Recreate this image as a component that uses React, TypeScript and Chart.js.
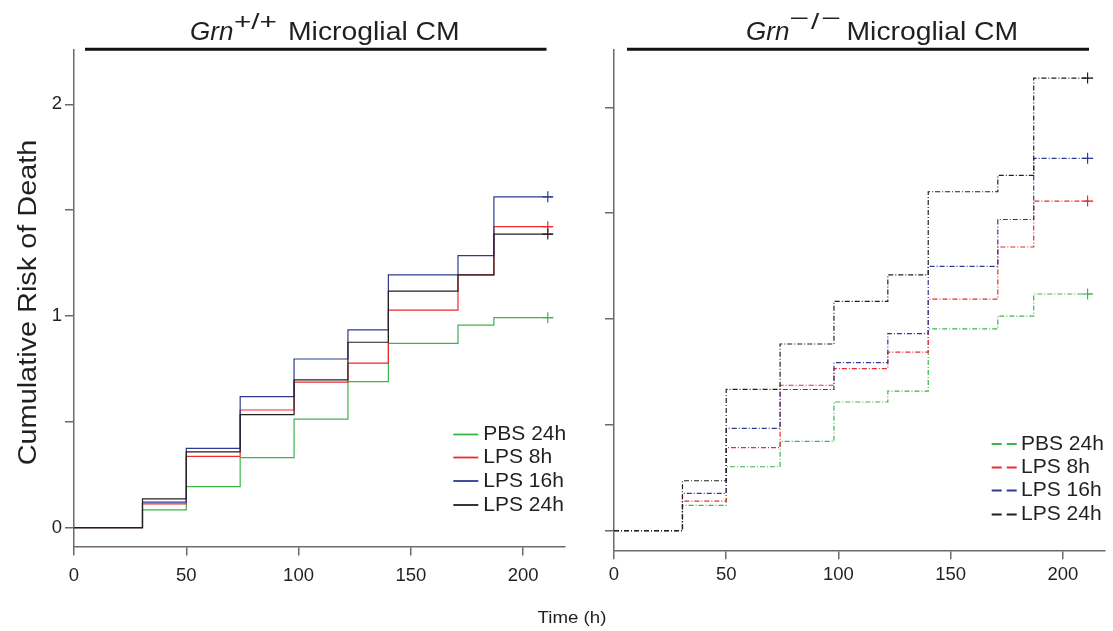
import React, { useEffect, useRef } from 'react';
import { Chart, registerables } from 'chart.js';

Chart.register(...registerables);

// ---------- data ----------
const seriesNames = ['PBS 24h', 'LPS 8h', 'LPS 16h', 'LPS 24h'];
const seriesColors = ['#3cb54a', '#ec2a30', '#2e3a92', '#231f20'];
const stepTimes = [0, 30.5, 50, 74, 98, 122, 140, 171, 187];
const censorTime = 211;
const endTime = 213.2;

const wtPBS24 = [0, 0.084, 0.194, 0.331, 0.513, 0.69, 0.871, 0.957, 0.992];
const wtLPS8 = [0, 0.113, 0.337, 0.556, 0.688, 0.777, 1.028, 1.194, 1.422];
const wtLPS16 = [0, 0.121, 0.375, 0.619, 0.797, 0.935, 1.194, 1.285, 1.563];
const wtLPS24 = [0, 0.136, 0.358, 0.534, 0.698, 0.876, 1.118, 1.194, 1.387];

const koPBS24 = [0, 0.12, 0.302, 0.422, 0.608, 0.659, 0.953, 1.014, 1.118];
const koLPS8 = [0, 0.14, 0.392, 0.687, 0.766, 0.844, 1.094, 1.34, 1.557];
const koLPS16 = [0, 0.176, 0.483, 0.667, 0.794, 0.931, 1.249, 1.47, 1.759];
const koLPS24 = [0, 0.236, 0.668, 0.882, 1.083, 1.208, 1.601, 1.678, 2.138];

const xTicks = [0, 50, 100, 150, 200];
const yTicks = [0, 0.5, 1, 1.5, 2];
const yLabelled = [0, 1, 2];

const yAxisTitle = 'Cumulative Risk of Death';
const xAxisTitle = 'Time (h)';
const titleGene = 'Grn';
const titleRest = 'Microglial CM';

// ---------- style ----------
const W = 1113;
const H = 631;
const FONT = '"Liberation Sans", Arial, Helvetica, sans-serif';
const TEXT = '#231f20';
const AXIS = '#6a6a6a';

type Panel = {
  values: number[][];
  dash: number[];
  area: { left: number; right: number; top: number; bottom: number };
  yMin: number;
  yMax: number;
  xMax: number;
  yAxisWidth: number;
  yLabels: boolean;
  xLabelPad: number;
  title: { x: number; supX: number; mainX: number; sup: string[]; supGap: number; supDy: number; lineFrom: number; lineTo: number };
  legend: { x0: number; x1: number; textX: number; rows: number[]; dash: number[] };
  extras: boolean;
};

const panels: Panel[] = [
  {
    values: [wtPBS24, wtLPS8, wtLPS16, wtLPS24],
    dash: [],
    area: { left: 74, right: 565, top: 49.3, bottom: 546.6 },
    yMin: -0.0893,
    yMax: 2.26,
    xMax: 218.66,
    yAxisWidth: 74,
    yLabels: true,
    xLabelPad: 9,
    title: { x: 190, supX: 234, mainX: 288, sup: ['+', '/', '+'], supGap: 0, supDy: 0, lineFrom: 85, lineTo: 546.5 },
    legend: { x0: 453.3, x1: 478.3, textX: 483.3, rows: [434.5, 457.5, 481, 505], dash: [] },
    extras: true,
  },
  {
    values: [koPBS24, koLPS8, koLPS16, koLPS24],
    dash: [5, 2, 1, 2],
    area: { left: 614, right: 1105, top: 49.3, bottom: 550.3 },
    yMin: -0.0926,
    yMax: 2.274,
    xMax: 218.76,
    yAxisWidth: 20,
    yLabels: false,
    xLabelPad: 5,
    title: { x: 746, supX: 791, mainX: 846.5, sup: ['\u2013', '/', '\u2013'], supGap: 3.5, supDy: -5, lineFrom: 627, lineTo: 1089 },
    legend: { x0: 991.7, x1: 1017, textX: 1021, rows: [444, 467.5, 490.5, 514.5], dash: [10, 5] },
    extras: false,
  },
];

function stepData(vals: number[]) {
  const last = vals[vals.length - 1];
  return [
    ...stepTimes.map((t, i) => ({ x: t, y: vals[i] })),
    { x: censorTime, y: last },
    { x: endTime, y: last },
  ];
}

function censorRadii() {
  return [...stepTimes.map(() => 0), 5.5, 0];
}

function drawStretched(ctx: CanvasRenderingContext2D, text: string, x: number, y: number, font: string, sx: number, align: string) {
  ctx.save();
  ctx.font = font;
  const w = ctx.measureText(text).width * sx;
  const x0 = align === 'center' ? x - w / 2 : align === 'right' ? x - w : x;
  ctx.translate(x0, y);
  ctx.scale(sx, 1);
  ctx.textAlign = 'left';
  ctx.textBaseline = 'alphabetic';
  ctx.fillText(text, 0, 0);
  ctx.restore();
  return w;
}

function makeOverlay(p: Panel) {
  return {
    id: 'overlay',
    afterDraw(chart: any) {
      const ctx: CanvasRenderingContext2D = chart.ctx;
      ctx.save();
      ctx.fillStyle = TEXT;
      // title
      drawStretched(ctx, titleGene, p.title.x, 40, `italic 26px ${FONT}`, 1.0, 'left');
      let sx = p.title.supX;
      for (const ch of p.title.sup) {
        const dy = ch === '/' ? 0 : p.title.supDy;
        const w = drawStretched(ctx, ch, sx, 29 + dy, `22px ${FONT}`, 1.35, 'left');
        sx += w + p.title.supGap;
      }
      drawStretched(ctx, titleRest, p.title.mainX, 40, `26px ${FONT}`, 1.09, 'left');
      ctx.strokeStyle = '#111';
      ctx.lineWidth = 3;
      ctx.beginPath();
      ctx.moveTo(p.title.lineFrom, 49.2);
      ctx.lineTo(p.title.lineTo, 49.2);
      ctx.stroke();

      // legend
      seriesNames.forEach((name, i) => {
        const y = p.legend.rows[i];
        ctx.save();
        ctx.strokeStyle = seriesColors[i];
        ctx.lineWidth = 1.8;
        ctx.setLineDash(p.legend.dash);
        ctx.beginPath();
        ctx.moveTo(p.legend.x0, y);
        ctx.lineTo(p.legend.x1, y);
        ctx.stroke();
        ctx.restore();
        ctx.font = `21px ${FONT}`;
        ctx.textAlign = 'left';
        ctx.textBaseline = 'middle';
        ctx.fillStyle = TEXT;
        ctx.fillText(name, p.legend.textX, y);
      });

      if (p.extras) {
        ctx.save();
        ctx.translate(36, 302.5);
        ctx.rotate(-Math.PI / 2);
        drawStretched(ctx, yAxisTitle, 0, 0, `26px ${FONT}`, 1.11, 'center');
        ctx.restore();
        drawStretched(ctx, xAxisTitle, 572, 623, `17px ${FONT}`, 1.1, 'center');
      }
      ctx.restore();
    },
  };
}

function makeConfig(p: Panel): any {
  const datasets = p.values.map((vals, i) => ({
    label: seriesNames[i],
    data: stepData(vals),
    borderColor: seriesColors[i],
    backgroundColor: seriesColors[i],
    borderWidth: 1.2,
    borderDash: p.dash,
    stepped: true,
    fill: false,
    pointStyle: 'cross',
    pointRadius: censorRadii(),
    pointHoverRadius: 0,
    pointBorderColor: seriesColors[i],
    pointBorderWidth: 1.2,
    order: 4 - i,
  }));
  const gridCfg = { display: true, drawOnChartArea: false, drawTicks: true, tickLength: 9, color: AXIS, lineWidth: 1.5 };
  const borderCfg = { display: true, color: AXIS, width: 1.5 };
  return {
    type: 'line',
    data: { datasets },
    options: {
      responsive: false,
      maintainAspectRatio: false,
      animation: false,
      events: [],
      layout: {
        padding: { left: p.area.left - p.yAxisWidth, right: W - p.area.right, top: p.area.top, bottom: 0 },
      },
      plugins: { legend: { display: false }, tooltip: { enabled: false }, title: { display: false } },
      scales: {
        x: {
          type: 'linear',
          min: 0,
          max: p.xMax,
          afterBuildTicks: (s: any) => {
            s.ticks = xTicks.map((v) => ({ value: v }));
          },
          afterFit: (s: any) => {
            s.height = H - p.area.bottom;
          },
          grid: gridCfg,
          border: borderCfg,
          ticks: {
            autoSkip: false,
            maxRotation: 0,
            padding: p.xLabelPad,
            color: TEXT,
            font: { family: FONT, size: 18.5 },
            callback: (v: number) => String(v),
          },
        },
        y: {
          type: 'linear',
          min: p.yMin,
          max: p.yMax,
          afterBuildTicks: (s: any) => {
            s.ticks = yTicks.map((v) => ({ value: v }));
          },
          afterFit: (s: any) => {
            s.width = p.yAxisWidth;
          },
          grid: gridCfg,
          border: borderCfg,
          ticks: {
            autoSkip: false,
            padding: 3,
            color: TEXT,
            font: { family: FONT, size: 18.5 },
            callback: (v: number) => (p.yLabels && yLabelled.includes(v) ? String(v) : ''),
          },
        },
      },
    },
    plugins: [makeOverlay(p)],
  };
}

export default function App() {
  const leftRef = useRef<HTMLCanvasElement | null>(null);
  const rightRef = useRef<HTMLCanvasElement | null>(null);

  useEffect(() => {
    const charts: Chart[] = [];
    if (leftRef.current) charts.push(new Chart(leftRef.current, makeConfig(panels[0])));
    if (rightRef.current) charts.push(new Chart(rightRef.current, makeConfig(panels[1])));
    return () => charts.forEach((c) => c.destroy());
  }, []);

  const canvasStyle: React.CSSProperties = { position: 'absolute', left: 0, top: 0, width: W, height: H };
  return (
    <div style={{ position: 'absolute', left: 0, top: 0, width: W, height: H, background: '#fff', overflow: 'hidden' }}>
      <canvas ref={leftRef} width={W} height={H} style={canvasStyle} />
      <canvas ref={rightRef} width={W} height={H} style={canvasStyle} />
    </div>
  );
}
